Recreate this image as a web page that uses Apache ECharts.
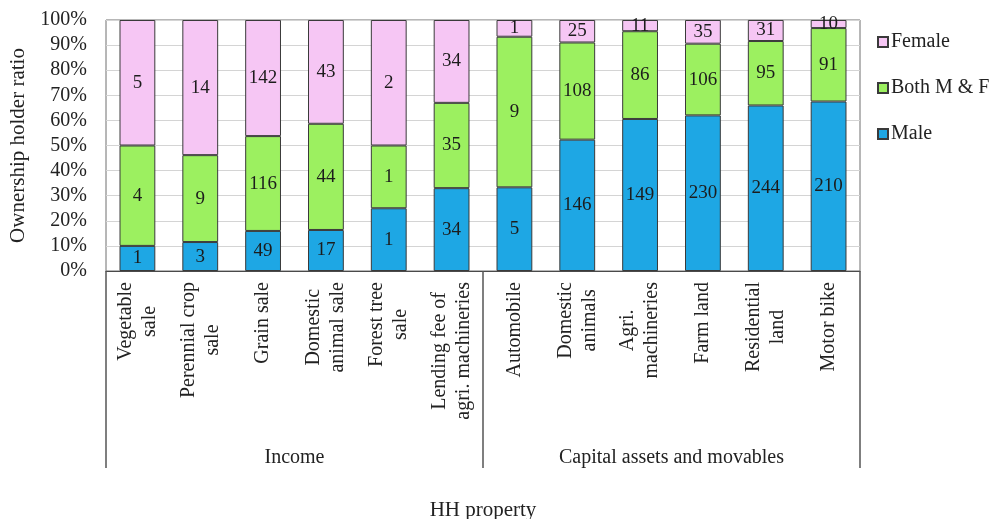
<!DOCTYPE html>
<html>
<head>
<meta charset="utf-8">
<script src="https://cdn.jsdelivr.net/npm/echarts@6/dist/echarts.min.js"></script>
<style>
  html, body { margin: 0; padding: 0; background: #fff; }
  #chart { width: 998px; height: 519px; }
</style>
</head>
<body>
<div id="chart"></div>
<script>
// Household property items (two-line labels use \n)
const categories = [
  'Vegetable\nsale', 'Perennial crop\nsale', 'Grain sale', 'Domestic\nanimal sale',
  'Forest tree\nsale', 'Lending fee of\nagri. machineries',
  'Automobile', 'Domestic\nanimals', 'Agri.\nmachineries', 'Farm land',
  'Residential\nland', 'Motor bike'
];
const groups = ['Income', 'Capital assets and movables'];

// Number of households by ownership holder
const male    = [1, 3, 49, 17, 1, 34, 5, 146, 149, 230, 244, 210];
const bothMF  = [4, 9, 116, 44, 1, 35, 9, 108, 86, 106, 95, 91];
const female  = [5, 14, 142, 43, 2, 34, 1, 25, 11, 35, 31, 10];

const yTicks = [0, 10, 20, 30, 40, 50, 60, 70, 80, 90, 100];

const totals = categories.map((_, i) => male[i] + bothMF[i] + female[i]);
const toShare = arr => arr.map((v, i) => ({ value: v / totals[i] * 100, count: v }));

const FONT = 'Liberation Serif';
const TXT = '#222';

function barSeries(name, counts, color) {
  return {
    name: name,
    type: 'bar',
    stack: 'ratio',
    xAxisIndex: 0,
    barWidth: '57%',
    data: toShare(counts),
    itemStyle: { color: color, borderColor: '#3a3a3a', borderWidth: 1 },
    label: {
      show: true,
      position: 'inside',
      fontFamily: FONT,
      fontSize: 19,
      color: '#1c1c1c',
      formatter: p => String(p.data.count)
    },
    emphasis: { disabled: true }
  };
}

const chart = echarts.init(document.getElementById('chart'), null, { renderer: 'canvas' });
chart.setOption({
  animation: false,
  backgroundColor: '#fff',
  textStyle: { fontFamily: FONT, color: TXT },
  grid: {
    left: 106, right: 138, top: 20, bottom: 248,
    outerBoundsMode: 'none',
    containLabel: false,
    show: true, borderColor: '#6e6e6e', borderWidth: 1
  },
  legend: {
    orient: 'vertical',
    left: 872,
    top: 27,
    itemWidth: 10,
    itemHeight: 10,
    itemGap: 26,
    icon: 'rect',
    data: ['Female', 'Both M & F', 'Male'],
    textStyle: { fontFamily: FONT, fontSize: 20, color: TXT, padding: [0, 0, 0, -2] }
  },
  xAxis: [
    {
      type: 'category',
      data: categories,
      position: 'bottom',
      boundaryGap: true,
      axisLine: { show: true, lineStyle: { color: '#4a4a4a', width: 1 } },
      axisTick: { show: false },
      axisLabel: {
        interval: 0,
        rotate: 90,
        margin: 11,
        fontFamily: FONT,
        fontSize: 20,
        lineHeight: 24,
        color: TXT,
        formatter: v => v.split('\n').map(s => '{c|' + s + '}').join('\n'),
        rich: { c: { align: 'center', fontFamily: FONT, fontSize: 20, lineHeight: 24, color: TXT } }
      },
      name: 'HH property',
      nameLocation: 'middle',
      nameGap: 229,
      nameTextStyle: { fontFamily: FONT, fontSize: 21, color: TXT }
    },
    {
      type: 'category',
      data: groups,
      position: 'bottom',
      offset: 0,
      boundaryGap: true,
      axisLine: { show: false },
      axisTick: { show: true, length: 197, lineStyle: { color: '#555', width: 1.5 } },
      axisLabel: {
        interval: 0,
        margin: 177,
        fontFamily: FONT,
        fontSize: 20,
        color: TXT
      }
    }
  ],
  yAxis: {
    type: 'value',
    min: 0,
    max: 100,
    interval: 10,
    axisLine: { show: false },
    axisTick: { show: false },
    splitLine: { show: true, lineStyle: { color: '#d4d4d4', width: 1 } },
    axisLabel: {
      margin: 19,
      fontFamily: FONT,
      fontSize: 20,
      color: TXT,
      formatter: v => yTicks.includes(v) ? v + '%' : ''
    },
    name: 'Ownership holder ratio',
    nameLocation: 'middle',
    nameGap: 75,
    nameTextStyle: { fontFamily: FONT, fontSize: 21, color: TXT }
  },
  series: [
    barSeries('Male', male, '#1ea7e4'),
    barSeries('Both M & F', bothMF, '#9cf060'),
    barSeries('Female', female, '#f6c6f4')
  ]
});
</script>
</body>
</html>
